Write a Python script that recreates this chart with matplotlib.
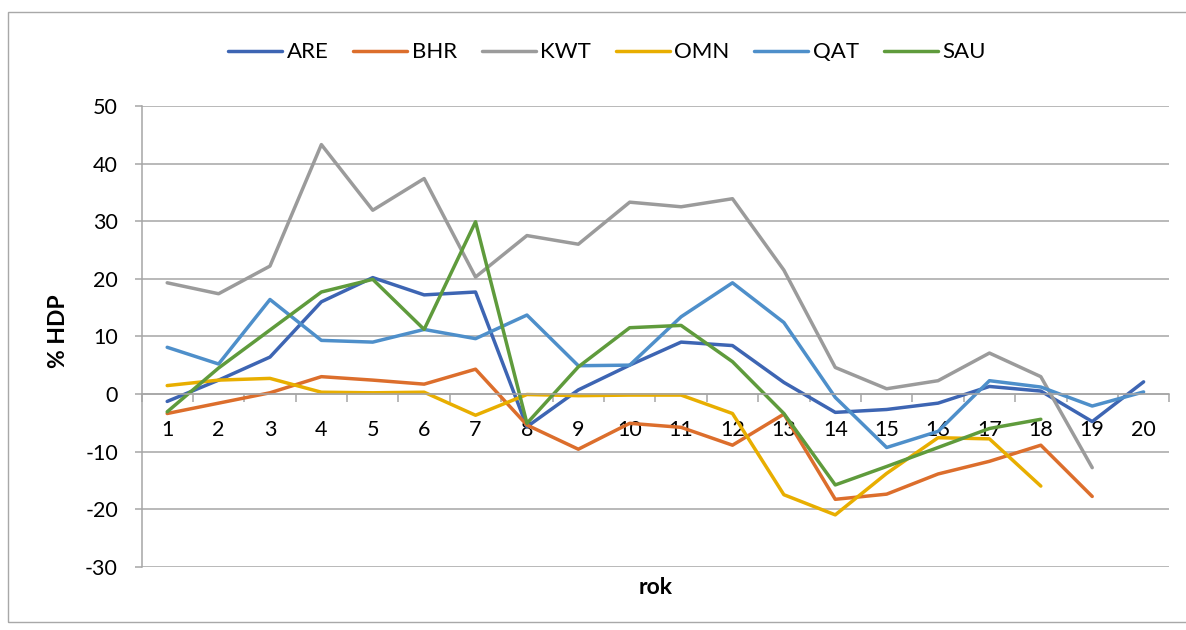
import numpy as np
import matplotlib
matplotlib.use("Agg")
import matplotlib.pyplot as plt
from matplotlib.patches import Rectangle

plt.rcParams['font.family'] = ['Lato', 'DejaVu Sans']

nan = np.nan
years = list(range(1, 21))
year_labels = [str(y) for y in years]

ARE = [-1.3, 2.4, 6.4, 16.0, 20.2, 17.2, 17.7, -5.7, 0.7, 5.0,
       9.0, 8.4, 2.0, -3.2, -2.7, -1.6, 1.3, 0.5, -4.8, 2.1]
BHR = [-3.4, -1.6, 0.2, 3.0, 2.4, 1.7, 4.3, -5.4, -9.6, -5.1,
       -5.8, -8.9, -3.5, -18.3, -17.4, -13.9, -11.7, -8.9, -17.8, nan]
KWT = [19.3, 17.4, 22.2, 43.3, 31.9, 37.4, 20.3, 27.5, 26.0, 33.3,
       32.5, 33.9, 21.5, 4.6, 0.9, 2.3, 7.1, 3.0, -12.8, nan]
OMN = [1.45, 2.4, 2.7, 0.3, 0.2, 0.3, -3.7, -0.1, -0.3, -0.2,
       -0.2, -3.4, -17.5, -21.0, -13.8, -7.6, -7.8, -16.0, nan, nan]
QAT = [8.1, 5.2, 16.4, 9.3, 9.0, 11.2, 9.6, 13.7, 4.9, 5.0,
       13.4, 19.3, 12.4, -0.6, -9.3, -6.5, 2.3, 1.2, -2.1, 0.35]
SAU = [-3.1, 4.5, 11.1, 17.7, 19.9, 11.2, 29.9, -5.1, 4.7, 11.5,
       11.9, 5.6, -3.4, -15.8, -12.6, -9.3, -6.0, -4.4, nan, nan]

series_names = ["ARE", "BHR", "KWT", "OMN", "QAT", "SAU"]
series_values = [ARE, BHR, KWT, OMN, QAT, SAU]
colors = ["#3D65B3", "#DC6E2C", "#9B9B9B", "#E8AE00", "#4E8FCA", "#5F9B3C"]

y_ticks = list(range(-30, 60, 10))

grid_c = "#A6A6A6"
W, H = 1186, 630
fig = plt.figure(figsize=(W / 100, H / 100), dpi=100)
fig.patch.set_facecolor("white")

# outer chart frame (runs off the right edge)
fig.patches.append(Rectangle((7.5 / W, 1 - 622 / H), 1.0, (622 - 12) / H,
                             transform=fig.transFigure, fill=False,
                             edgecolor="#A8A8A8", lw=1.0, clip_on=False))

left, right = 141.5 / W, 1169.3 / W
bottom, top = 1 - 566.7 / H, 1 - 106 / H
ax = fig.add_axes([left, bottom, right - left, top - bottom])

for name, vals, c in zip(series_names, series_values, colors):
    ax.plot(years, vals, color=c, lw=2.5, label=name,
            solid_joinstyle="round", solid_capstyle="round")

ax.set_xlim(0.5, 20.5)
ax.set_ylim(-30, 50)
ax.set_yticks(y_ticks)
ax.set_yticklabels([str(v) for v in y_ticks])
ax.yaxis.grid(True, color=grid_c, lw=1.1)
ax.set_axisbelow(True)

for s in ["top", "right"]:
    ax.spines[s].set_visible(False)
ax.spines["left"].set_color(grid_c)
ax.spines["left"].set_linewidth(1.1)
ax.spines["bottom"].set_position(("data", 0))
ax.spines["bottom"].set_color(grid_c)
ax.spines["bottom"].set_linewidth(1.1)

# category boundaries get tick marks, category centres get labels
ax.set_xticks(np.arange(0.5, 21, 1.0))
ax.set_xticklabels([])
ax.set_xticks(years, minor=True)
ax.set_xticklabels(year_labels, minor=True)
ax.tick_params(axis="x", which="major", direction="out", length=6,
               width=1.1, color=grid_c)
ax.tick_params(axis="x", which="minor", length=0, pad=18.5,
               labelsize=15.5, labelcolor="black")
ax.tick_params(axis="y", direction="out", length=5, width=1.1,
               color=grid_c, pad=12, labelsize=15.5, labelcolor="black")

fig.text(58.5 / W, 1 - 331 / H, "% HDP", rotation=90, ha="center",
         va="center", fontsize=16.5, fontweight="bold")
fig.text(655.5 / W, 1 - 588 / H, "rok", ha="center", va="center",
         fontsize=16.5, fontweight="bold")

fig.legend(loc="center", bbox_to_anchor=(607 / W, 1 - 52.3 / H), ncol=6,
           frameon=False, fontsize=16, handlelength=2.43, handletextpad=0.2,
           columnspacing=1.12)

fig.savefig("out.png", dpi=100, facecolor="white")
